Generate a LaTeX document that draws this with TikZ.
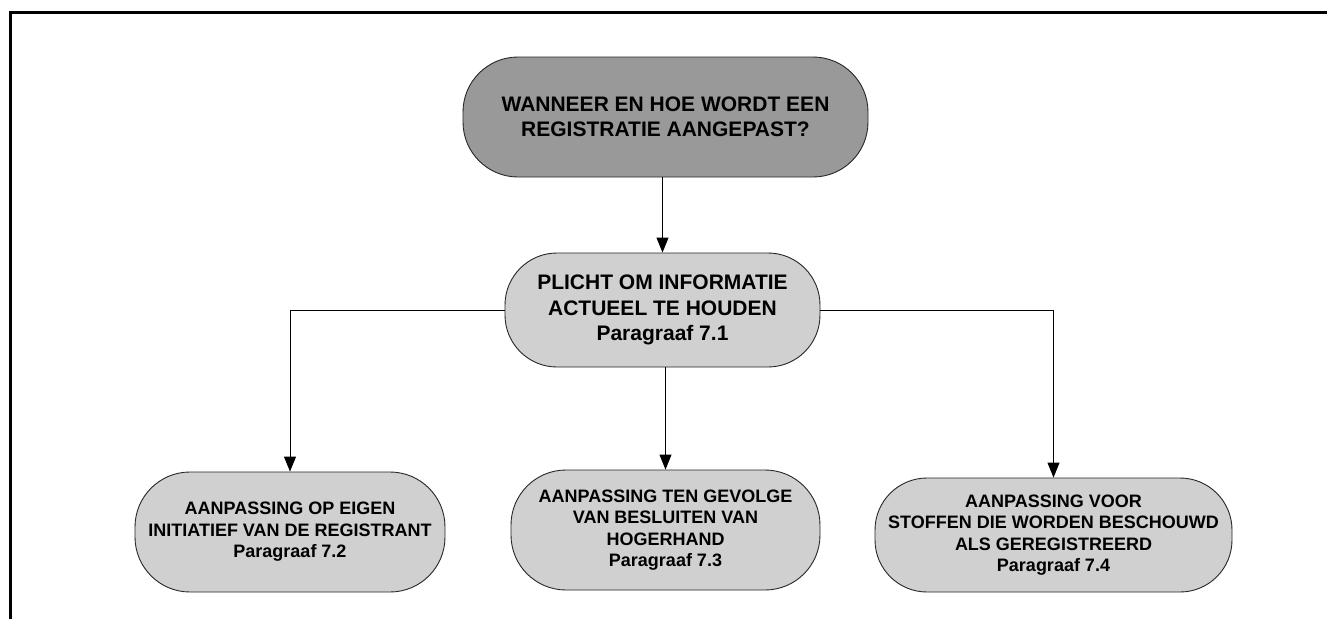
\documentclass[tikz,border=0pt]{standalone}
\usepackage{fontspec}
\setmainfont{Liberation Sans}
\usetikzlibrary{positioning,arrows.meta}
\definecolor{topgray}{HTML}{999999}
\definecolor{boxgray}{HTML}{D0D0D0}
\tikzset{
  stadium/.style={draw=black!85, line width=0.9pt, fill=boxgray, rounded corners=55pt,
    align=center, inner sep=0pt, font=\bfseries},
  lowbox/.style={stadium, font=\bfseries\fontsize{18}{21.5}\selectfont},
  link/.style={line width=0.9pt, -{Triangle[width=12pt,length=15pt]}}
}

\begin{document}
\begin{tikzpicture}[x=1pt,y=-1pt]
			\useasboundingbox (0,0) rectangle (1327,619);
			% frame
			\draw[line width=3pt] (10,619) -- (10,12) -- (1327,12);
			% boxes
			\node[stadium, fill=topgray, minimum width=405pt, minimum height=120pt,
				font=\bfseries\fontsize{21}{25}\selectfont] (vraag) at (665.5,117)
				{WANNEER EN HOE WORDT EEN\\REGISTRATIE AANGEPAST?};
			\node[stadium, minimum width=315pt, minimum height=114pt, rounded corners=52pt,
				font=\bfseries\fontsize{21}{25.7}\selectfont] (plicht) at (662.5,310)
				{PLICHT OM INFORMATIE\\ACTUEEL TE HOUDEN\\Paragraaf 7.1};
			\node[lowbox, minimum width=310pt, minimum height=120pt] (eigen) at (290,532)
				{AANPASSING OP EIGEN\\INITIATIEF VAN DE REGISTRANT\\Paragraaf 7.2};
			\node[lowbox, minimum width=309pt, minimum height=120pt] (hoger) at (665.5,530)
				{AANPASSING TEN GEVOLGE\\VAN BESLUITEN VAN\\HOGERHAND\\Paragraaf 7.3};
			\node[lowbox, minimum width=357pt, minimum height=114pt, rounded corners=52pt] (stoffen) at (1053.5,535)
				{AANPASSING VOOR\\STOFFEN DIE WORDEN BESCHOUWD\\ALS GEREGISTREERD\\Paragraaf 7.4};
			% connectors
			\draw[link] (vraag.south -| plicht.north) -- (plicht.north);
			\draw[link] (plicht.west) -| (eigen.north);
			\draw[link] (plicht.south -| hoger.north) -- (hoger.north);
			\draw[link] (plicht.east) -| (stoffen.north);
\end{tikzpicture}
\end{document}
